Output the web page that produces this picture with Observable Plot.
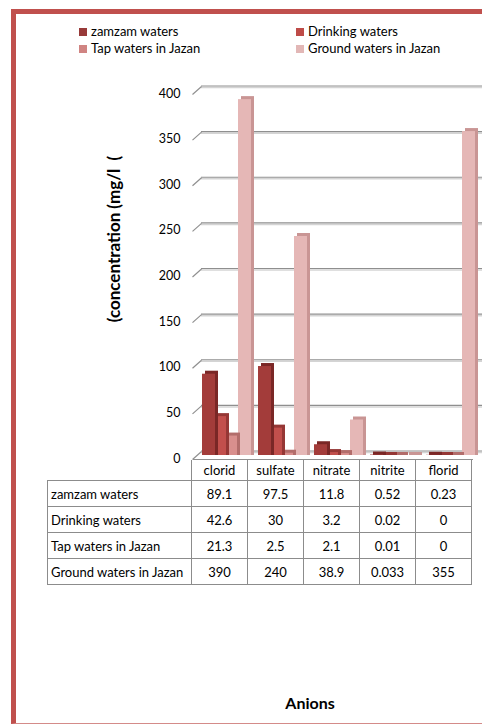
<!DOCTYPE html>
<html>
<head>
<meta charset="utf-8">
<script src="https://cdn.jsdelivr.net/npm/d3@7"></script>
<script src="https://cdn.jsdelivr.net/npm/@observablehq/plot@0.6"></script>
<style>
  html, body { margin: 0; padding: 0; background: #fff; }
  #page { position: relative; width: 482px; height: 724px; overflow: hidden; font-family: Lato, "Open Sans", sans-serif; color: #000; }
  #frame { position: absolute; left: 11px; top: 9px; width: 520px; height: 709px;
           border-left: 5px solid #c0504d; border-top: 5px solid #c0504d; border-bottom: 1px solid #d48b89; }
  #legend { position: absolute; left: 79px; top: 24px; width: 400px; font-size: 13px; }
  .item { position: absolute; white-space: nowrap; line-height: 15px; }
  .item i { display: inline-block; width: 8px; height: 8px; margin-right: 4px; vertical-align: 0px; }
  #chart { position: absolute; left: 0; top: 0; }
  #ytitle { position: absolute; left: 113px; top: 239px; transform: translate(-50%, -50%) rotate(-90deg);
            font-weight: bold; font-size: 17px; white-space: pre; }
  #xtitle { position: absolute; left: 310px; top: 702px; transform: translate(-50%, -50%);
            font-weight: bold; font-size: 16px; }
  #table { position: absolute; left: 47px; top: 460px; border-collapse: collapse; font-size: 13px; }
  #table td { border: 1.5px solid #8c8c8c; height: 25px; padding: 0; text-align: center; width: 55px; }
  #table td.lab { text-align: left; width: 140px; padding-left: 3px; }
  #table tr.head td { height: 20px; border-top: none; }
  #table tr.head td.blank { border: none; border-bottom: 1.5px solid #8c8c8c; }
</style>
</head>
<body>
<div id="page">
  <div id="frame"></div>
  <div id="legend"></div>
  <div id="chart"></div>
  <div id="ytitle">(concentration (mg/l  (</div>
  <table id="table"></table>
  <div id="xtitle">Anions</div>
</div>
<script>
// Anion concentrations (mg/l) by water source
const anions = ["clorid", "sulfate", "nitrate", "nitrite", "florid"];
const sources = ["zamzam waters", "Drinking waters", "Tap waters in Jazan", "Ground waters in Jazan"];
const zamzam = [89.1, 97.5, 11.8, 0.52, 0.23];
const drinking = [42.6, 30, 3.2, 0.02, 0];
const tap = [21.3, 2.5, 2.1, 0.01, 0];
const ground = [390, 240, 38.9, 0.033, 355];
const yTicks = [0, 50, 100, 150, 200, 250, 300, 350, 400];

const values = [zamzam, drinking, tap, ground];
const faceColors = ["#a33c3a", "#c24f4c", "#d98f8d", "#e5b7b6"];
const sideColors = ["#7a2726", "#953735", "#b36d6b", "#c99594"];
const legendColors = ["#983a39", "#be4b48", "#d08482", "#e2b7b6"];

// Legend (two columns)
const legend = document.getElementById("legend");
sources.forEach((s, j) => {
  const el = document.createElement("div");
  el.className = "item";
  el.style.left = (j % 2 ? 217 : 0) + "px";
  el.style.top = (j < 2 ? 0 : 17) + "px";
  el.innerHTML = `<i style="background:${legendColors[j]}"></i>${s}`;
  legend.appendChild(el);
});

// Long-format rows for the bars
const rows = anions.flatMap((a, i) => sources.map((s, j) => ({anion: a, i, source: s, j, value: values[j][i]})));

// Pixel geometry of the pseudo-3D clustered columns
const colPx = 56;                   // width of one anion column
const barOffsets = [9, 20, 31, 45]; // left edge of each source's column within an anion slot
const barWidth = 13;
const depth = 3;                    // extrusion of the column sides
const yUnitsPerPx = 400 / 365;

const barMarks = [];
// draw back series first so front series overlap them
for (let j = sources.length - 1; j >= 0; j--) {
  const data = rows.filter(d => d.j === j);
  const x1 = d => d.i + barOffsets[j] / colPx;
  const x2 = d => d.i + (barOffsets[j] + barWidth) / colPx;
  barMarks.push(
    Plot.rect(data, {x1, x2, y1: 0, y2: "value", dx: depth, dy: -depth, insetBottom: -depth, fill: sideColors[j]}),
    Plot.rect(data, {x1, x2, y1: 0, y2: "value", fill: faceColors[j]})
  );
}

const chart = Plot.plot({
  width: 482,
  height: 470,
  marginLeft: 193,
  marginRight: 9,
  marginTop: 90,
  marginBottom: 15,
  style: {background: "transparent", fontFamily: "Lato, 'Open Sans', sans-serif", fontSize: "12px", overflow: "visible"},
  x: {type: "linear", domain: [0, anions.length], axis: null},
  y: {domain: [0, 400], axis: null},
  marks: [
    // back-wall gridlines
    Plot.ruleY(yTicks, {y: d => d, dy: -3, insetLeft: 8, insetRight: -12, stroke: "#d4d4d4", strokeWidth: 1.5}),
    Plot.ruleY(yTicks, {y: d => d, dy: -4.5, insetLeft: 8, insetRight: -12, stroke: "#8f8f8f", strokeWidth: 1.2}),
    // side-wall diagonals joining each gridline to the axis
    Plot.link(yTicks, {x1: -1 / colPx, x2: 8 / colPx, y1: d => d - 4 * yUnitsPerPx, y2: d => d + 4 * yUnitsPerPx, stroke: "#8f8f8f", strokeWidth: 1.2}),
    // floor front edge
    Plot.ruleY([0], {dy: 4, stroke: "#8f8f8f", strokeWidth: 1.2}),
    ...barMarks,
    // value axis labels
    Plot.text(yTicks, {x: 0, y: d => d, dx: -13, dy: 3, textAnchor: "end", fontSize: 12.5, fill: "#000"})
  ]
});
document.getElementById("chart").appendChild(chart);

// Data table under the columns
const table = document.getElementById("table");
const head = document.createElement("tr");
head.className = "head";
head.innerHTML = `<td class="blank"></td>` + anions.map(a => `<td>${a}</td>`).join("");
table.appendChild(head);
sources.forEach((s, j) => {
  const tr = document.createElement("tr");
  tr.innerHTML = `<td class="lab">${s}</td>` + values[j].map(v => `<td>${v}</td>`).join("");
  table.appendChild(tr);
});
</script>
</body>
</html>
